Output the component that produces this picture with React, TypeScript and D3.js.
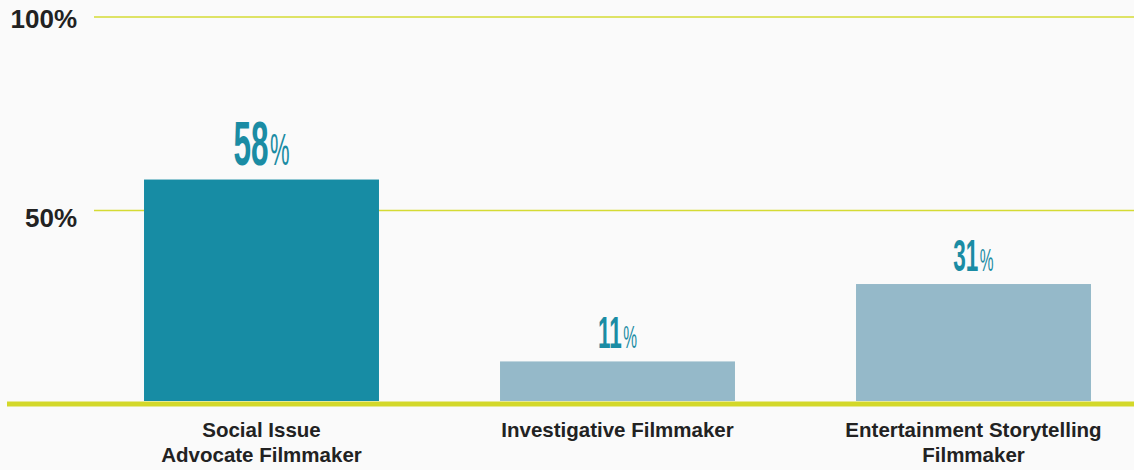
import React from "react";
import * as d3 from "d3";

const categories: string[][] = [
  ["Social Issue", "Advocate Filmmaker"],
  ["Investigative Filmmaker"],
  ["Entertainment Storytelling", "Filmmaker"],
];
const values: number[] = [58, 11, 31];
const highlighted: boolean[] = [true, false, false];
const yTicks: number[] = [50, 100];

const W = 1134;
const H = 470;

export default function App() {
  const keys = categories.map((c) => c.join(" "));
  const x = d3
    .scaleBand<string>()
    .domain(keys)
    .range([83.5, 1151.5])
    .paddingInner(0.34)
    .paddingOuter(0.17);
  const y = d3.scaleLinear().domain([0, 100]).range([404, 17]);
  const baseY = 404;

  return (
    <svg
      width={W}
      height={H}
      style={{ position: "absolute", left: 0, top: 0, display: "block" }}
    >
      <rect x={0} y={0} width={W} height={H} fill="#fafafa" />
      {yTicks.map((t) => (
        <g key={t}>
          <line
            x1={94}
            x2={W}
            y1={y(t)}
            y2={y(t)}
            stroke="#d5db34"
            strokeWidth={1.5}
          />
          <text
            x={77}
            y={y(t) + (t === 100 ? 11 : 16)}
            textAnchor="end"
            fontFamily="Liberation Sans, Arial, sans-serif"
            fontWeight="bold"
            fontSize={26}
            fill="#222"
          >
            {t}%
          </text>
        </g>
      ))}
      {values.map((v, i) => {
        const k = keys[i];
        const bx = x(k)!;
        const bw = x.bandwidth();
        const cx = bx + bw / 2;
        const top = y(v);
        const big = highlighted[i];
        const dSize = big ? 63 : 45;
        const pSize = big ? 44 : 31;
        const gap = big ? 15 : 13;
        return (
          <g key={k}>
            <rect
              x={bx}
              y={top}
              width={bw}
              height={401 - top}
              fill={big ? "#178ca4" : "#95b9c9"}
            />
            <g transform={`translate(${cx},${top - gap}) scale(0.5,1)`}>
              <text
                x={0}
                y={0}
                textAnchor="middle"
                fontFamily="Liberation Sans, Arial, sans-serif"
                fill="#1a8ca4"
              >
                <tspan fontSize={dSize} fontWeight="bold">
                  {v}
                </tspan>
                <tspan fontSize={pSize} fontWeight="normal" dx={3}>
                  %
                </tspan>
              </text>
            </g>
            <text
              x={cx}
              y={437}
              textAnchor="middle"
              fontFamily="Liberation Sans, Arial, sans-serif"
              fontWeight="bold"
              fontSize={20.5}
              fill="#222"
            >
              {categories[i].map((line, j) => (
                <tspan key={j} x={cx} dy={j === 0 ? 0 : 25}>
                  {line}
                </tspan>
              ))}
            </text>
          </g>
        );
      })}
      <line
        x1={7}
        x2={W}
        y1={baseY}
        y2={baseY}
        stroke="#d3d82a"
        strokeWidth={5}
      />
    </svg>
  );
}
